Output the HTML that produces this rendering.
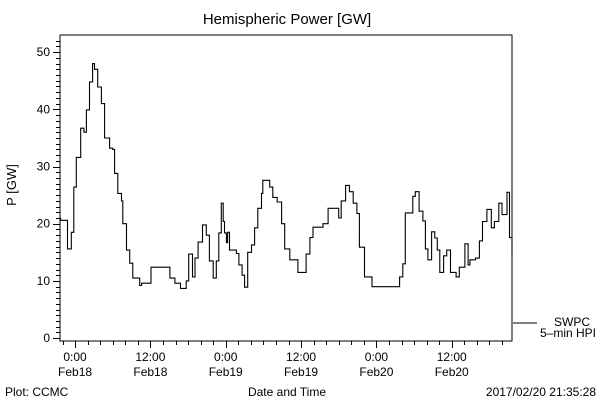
<!DOCTYPE html>
<html><head><meta charset="utf-8"><style>
body{margin:0;background:#fff}
svg{display:block}
text{font-family:"Liberation Sans",sans-serif;fill:#000}
</style></head><body>
<svg id="chart" width="600" height="400" viewBox="0 0 600 400">
<text x="287" y="24" font-size="15" text-anchor="middle">Hemispheric Power [GW]</text>
<text transform="translate(16,185) rotate(-90)" font-size="13" text-anchor="middle">P [GW]</text>
<text x="287" y="396" font-size="12" text-anchor="middle">Date and Time</text>
<text x="5" y="396" font-size="12">Plot: CCMC</text>
<text x="596" y="396" font-size="12" text-anchor="end">2017/02/20 21:35:28</text>
<g id="axes"></g>
<rect x="60" y="35" width="452" height="306" fill="none" stroke="#000" stroke-width="1"/>
<path id="series" fill="none" stroke="#000" stroke-width="1.1"/>
<g>
<line x1="513" y1="323" x2="537" y2="323" stroke="#000"/>
<text x="590" y="326" font-size="12" text-anchor="end">SWPC</text>
<text x="596" y="337" font-size="12" text-anchor="end">5–min HPI</text>
</g>
</svg>
<script>
const hours=[-2.4,-2.3,-1.2,-0.6,-0.2,0.2,0.9,1.4,1.8,2.3,2.8,3.1,3.6,4.2,4.7,5.5,6.0,6.3,6.8,7.4,7.6,8.2,8.7,9.2,10.3,10.6,11.4,12.1,14.3,15.1,15.9,16.8,17.3,17.7,18.1,18.4,18.7,19.1,19.6,20.3,20.9,21.4,22.0,22.5,22.9,23.3,23.6,23.8,24.1,24.3,24.6,25.4,25.7,26.1,26.6,27.0,27.5,28.1,28.6,29.1,29.7,29.9,30.6,31.0,31.5,32.2,32.9,33.4,34.2,35.0,35.5,36.4,36.8,37.4,37.9,39.5,40.3,41.6,42.0,42.4,43.1,43.7,44.3,44.9,45.3,46.1,47.3,51.1,51.7,52.2,52.6,53.3,53.8,54.2,54.8,55.4,55.8,56.2,56.8,57.3,57.7,58.1,58.5,58.7,59.2,59.8,60.7,61.2,62.1,62.6,62.9,63.8,64.4,64.9,65.6,66.3,66.8,67.5,68.0,68.8,69.2,69.6];
const power=[21,20.6,15.6,18.5,26.4,31.6,36.7,36,39.9,44.8,48,47,43.9,41,35,33.2,33,28.8,25.3,24,20,15.4,13.1,10.5,9.2,9.6,9.6,12.4,12.4,10.5,9.6,8.7,8.7,10,14.7,14.7,10.7,14,16.8,19.8,18,13.5,10.5,13.5,18.4,23.6,20.4,18.4,16.7,18.5,15.4,15.4,14.8,12.8,11,8.9,15,16.3,19.3,22.7,25.3,27.6,27.6,26.4,24.6,23.8,20,15.6,13.7,13.7,11.5,11.5,14.7,17.6,19.4,20,22.7,22.7,21,24,26.7,25.6,23.6,21.8,15.9,10.7,9,9,10.7,13,21.9,21.9,24.8,25.6,22.2,20.5,15.6,13.7,18.6,17.5,15.4,11.5,11.5,14.4,15.4,11.5,10.7,12.4,16.5,12.8,13.7,14,17,20.4,22.5,19.3,20.4,23.6,21.6,25.5,17.6,14.7];
const yTickValues=[0,10,20,30,40,50];
const xTickHours=[0,12,24,36,48,60];
const xTickTimes=["0:00","12:00","0:00","12:00","0:00","12:00"];
const xTickDates=["Feb18","Feb18","Feb19","Feb19","Feb20","Feb20"];

const X0=60,X1=512,Y0=35,Y1=341;
const hMin=-2.4,hMax=69.6,vMin=-0.5,vMax=53;
function xs(h){return X0+(h-hMin)/(hMax-hMin)*(X1-X0);}
function ys(v){return Y1-(v-vMin)/(vMax-vMin)*(Y1-Y0);}
const NS="http://www.w3.org/2000/svg";
const axes=document.getElementById('axes');
function ln(x1,y1,x2,y2,name){const l=document.createElementNS(NS,'line');
l.setAttribute('x1',x1);l.setAttribute('y1',y1);l.setAttribute('x2',x2);l.setAttribute('y2',y2);l.setAttribute('stroke','#000');


axes.appendChild(l);}
function tx(x,y,s,anchor,name){const t=document.createElementNS(NS,'text');
t.setAttribute('x',x);t.setAttribute('y',y);t.setAttribute('font-size','12');t.setAttribute('text-anchor',anchor);t.textContent=s;


axes.appendChild(t);}
for(let v=0;v<=52;v++){const y=Math.round(ys(v))+0.5;ln(v%10===0?53:56,y,X0,y,'y-tick');}
yTickValues.forEach(v=>tx(50,ys(v)+4,String(v),'end','y-tick-label'));
for(let h=-2;h<=69;h+=2){const x=Math.round(xs(h))+0.5;ln(x,Y1,x,Y1+(h%12===0?7:4),'x-tick');}
xTickHours.forEach((h,i)=>{tx(xs(h),361,xTickTimes[i],'middle','x-tick-time');tx(xs(h),376,xTickDates[i],'middle','x-tick-date');});
let d='';
hours.forEach((h,i)=>{const x=xs(h).toFixed(1),y=ys(power[i]).toFixed(1);
 if(i===0)d+='M'+x+' '+y;else d+='H'+x+'V'+y;});
document.getElementById('series').setAttribute('d',d);
</script>
</body></html>
